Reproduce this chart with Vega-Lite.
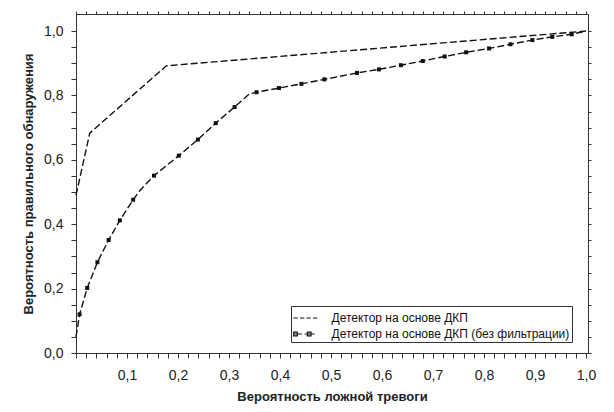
{
  "$schema": "https://vega.github.io/schema/vega-lite/v6.json",
  "width": 512,
  "height": 339,
  "autosize": {"type": "none"},
  "padding": {"left": 76, "top": 14, "right": 26, "bottom": 59},
  "background": "white",
  "config": {"font": "Liberation Sans", "view": {"stroke": null}},
  "data": {
    "values": [
      {"fpr": 0.0, "tpr": 0.49, "series": "Детектор на основе ДКП", "marker": false},
      {"fpr": 0.027, "tpr": 0.683, "series": "Детектор на основе ДКП", "marker": false},
      {"fpr": 0.177, "tpr": 0.892, "series": "Детектор на основе ДКП", "marker": false},
      {"fpr": 1.0, "tpr": 1.0, "series": "Детектор на основе ДКП", "marker": false},
      {"fpr": 0.0, "tpr": 0.05, "series": "Детектор на основе ДКП (без фильтрации)", "marker": false},
      {"fpr": 0.007, "tpr": 0.12, "series": "Детектор на основе ДКП (без фильтрации)", "marker": true},
      {"fpr": 0.022, "tpr": 0.202, "series": "Детектор на основе ДКП (без фильтрации)", "marker": true},
      {"fpr": 0.042, "tpr": 0.282, "series": "Детектор на основе ДКП (без фильтрации)", "marker": true},
      {"fpr": 0.064, "tpr": 0.351, "series": "Детектор на основе ДКП (без фильтрации)", "marker": true},
      {"fpr": 0.086, "tpr": 0.412, "series": "Детектор на основе ДКП (без фильтрации)", "marker": true},
      {"fpr": 0.112, "tpr": 0.476, "series": "Детектор на основе ДКП (без фильтрации)", "marker": true},
      {"fpr": 0.125, "tpr": 0.504, "series": "Детектор на основе ДКП (без фильтрации)", "marker": false},
      {"fpr": 0.153, "tpr": 0.551, "series": "Детектор на основе ДКП (без фильтрации)", "marker": true},
      {"fpr": 0.2016, "tpr": 0.613, "series": "Детектор на основе ДКП (без фильтрации)", "marker": true},
      {"fpr": 0.239, "tpr": 0.663, "series": "Детектор на основе ДКП (без фильтрации)", "marker": true},
      {"fpr": 0.274, "tpr": 0.714, "series": "Детектор на основе ДКП (без фильтрации)", "marker": true},
      {"fpr": 0.311, "tpr": 0.764, "series": "Детектор на основе ДКП (без фильтрации)", "marker": true},
      {"fpr": 0.34, "tpr": 0.805, "series": "Детектор на основе ДКП (без фильтрации)", "marker": false},
      {"fpr": 0.354, "tpr": 0.81, "series": "Детектор на основе ДКП (без фильтрации)", "marker": true},
      {"fpr": 0.398, "tpr": 0.823, "series": "Детектор на основе ДКП (без фильтрации)", "marker": true},
      {"fpr": 0.442, "tpr": 0.836, "series": "Детектор на основе ДКП (без фильтрации)", "marker": true},
      {"fpr": 0.487, "tpr": 0.85, "series": "Детектор на основе ДКП (без фильтрации)", "marker": true},
      {"fpr": 0.551, "tpr": 0.87, "series": "Детектор на основе ДКП (без фильтрации)", "marker": true},
      {"fpr": 0.594, "tpr": 0.881, "series": "Детектор на основе ДКП (без фильтрации)", "marker": true},
      {"fpr": 0.637, "tpr": 0.894, "series": "Детектор на основе ДКП (без фильтрации)", "marker": true},
      {"fpr": 0.68, "tpr": 0.907, "series": "Детектор на основе ДКП (без фильтрации)", "marker": true},
      {"fpr": 0.723, "tpr": 0.921, "series": "Детектор на основе ДКП (без фильтрации)", "marker": true},
      {"fpr": 0.765, "tpr": 0.934, "series": "Детектор на основе ДКП (без фильтрации)", "marker": true},
      {"fpr": 0.81, "tpr": 0.946, "series": "Детектор на основе ДКП (без фильтрации)", "marker": true},
      {"fpr": 0.852, "tpr": 0.959, "series": "Детектор на основе ДКП (без фильтрации)", "marker": true},
      {"fpr": 0.895, "tpr": 0.972, "series": "Детектор на основе ДКП (без фильтрации)", "marker": true},
      {"fpr": 0.934, "tpr": 0.982, "series": "Детектор на основе ДКП (без фильтрации)", "marker": true},
      {"fpr": 0.972, "tpr": 0.99, "series": "Детектор на основе ДКП (без фильтрации)", "marker": true},
      {"fpr": 1.0, "tpr": 1.0, "series": "Детектор на основе ДКП (без фильтрации)", "marker": false}
    ]
  },
  "layer": [
    {
      "mark": {"type": "line", "color": "#111", "strokeWidth": 1.4, "strokeDash": [7, 3]},
      "encoding": {
        "x": {
          "field": "fpr", "type": "quantitative",
          "scale": {"domain": [0, 1.004], "nice": false, "zero": false},
          "axis": {
            "orient": "bottom",
            "values": [0,0.02,0.04,0.06,0.08,0.1,0.12,0.14,0.16,0.18,0.2,0.22,0.24,0.26,0.28,0.3,0.32,0.34,0.36,0.38,0.4,0.42,0.44,0.46,0.48,0.5,0.52,0.54,0.56,0.58,0.6,0.62,0.64,0.66,0.68,0.7,0.72,0.74,0.76,0.78,0.8,0.82,0.84,0.86,0.88,0.9,0.92,0.94,0.96,0.98,1.0],
            "labelExpr": "datum.value > 0.001 && abs(datum.value*10 - round(datum.value*10)) < 0.001 ? replace(format(datum.value, '.1f'), '.', ',') : ''",
            "labelOverlap": false, "labelBound": false, "labelFlush": false,
            "labelFont": "Liberation Sans", "labelFontSize": 14, "labelColor": "#222",
            "tickSize": 5, "labelPadding": 10, "tickColor": "#333", "tickWidth": 1, "domainColor": "#333", "domainWidth": 1,
            "grid": false,
            "title": "Вероятность ложной тревоги",
            "titleFont": "Liberation Sans", "titleFontSize": 13, "titleFontWeight": "bold", "titleColor": "#222", "titlePadding": 8,
            "encode": {"ticks": {"update": {
              "y": {"signal": "abs(datum.value*10 - round(datum.value*10)) < 0.001 ? -6 : -3"},
              "y2": {"signal": "abs(datum.value*10 - round(datum.value*10)) < 0.001 ? 7 : 4"}
            }}}
          }
        },
        "y": {
          "field": "tpr", "type": "quantitative",
          "scale": {"domain": [0, 1.053], "nice": false, "zero": false},
          "axis": {
            "orient": "left",
            "values": [0,0.05,0.1,0.15,0.2,0.25,0.3,0.35,0.4,0.45,0.5,0.55,0.6,0.65,0.7,0.75,0.8,0.85,0.9,0.95,1.0],
            "labelExpr": "abs(datum.value*5 - round(datum.value*5)) < 0.001 ? replace(format(datum.value, '.1f'), '.', ',') : ''",
            "labelOverlap": false, "labelBound": false, "labelFlush": false,
            "labelFont": "Liberation Sans", "labelFontSize": 14, "labelColor": "#222",
            "tickSize": 5, "labelPadding": 8, "tickColor": "#333", "tickWidth": 1, "domainColor": "#333", "domainWidth": 1,
            "grid": false,
            "title": "Вероятность правильного обнаружения",
            "titleFont": "Liberation Sans", "titleFontSize": 13, "titleFontWeight": "bold", "titleColor": "#222", "titlePadding": 8,
            "encode": {"ticks": {"update": {
              "x": {"signal": "abs(datum.value*5 - round(datum.value*5)) < 0.001 ? -5 : -3"},
              "x2": {"signal": "abs(datum.value*5 - round(datum.value*5)) < 0.001 ? 4 : 3"}
            }}}
          }
        },
        "detail": {"field": "series", "type": "nominal"},
        "order": {"field": "fpr", "type": "quantitative"}
      }
    },
    {
      "transform": [{"filter": "datum.marker"}],
      "mark": {"type": "point", "shape": "square", "filled": true, "size": 16, "color": "#111", "opacity": 1},
      "encoding": {
        "x": {
          "field": "fpr", "type": "quantitative",
          "axis": {
            "orient": "top",
            "values": [0,0.02,0.04,0.06,0.08,0.1,0.12,0.14,0.16,0.18,0.2,0.22,0.24,0.26,0.28,0.3,0.32,0.34,0.36,0.38,0.4,0.42,0.44,0.46,0.48,0.5,0.52,0.54,0.56,0.58,0.6,0.62,0.64,0.66,0.68,0.7,0.72,0.74,0.76,0.78,0.8,0.82,0.84,0.86,0.88,0.9,0.92,0.94,0.96,0.98,1.0],
            "labels": false, "title": null, "grid": false,
            "tickColor": "#333", "tickWidth": 1, "domainColor": "#333", "domainWidth": 1, "tickSize": 3,
            "encode": {"ticks": {"update": {
              "y": {"signal": "abs(datum.value*10 - round(datum.value*10)) < 0.001 ? -2 : 0"},
              "y2": {"signal": "abs(datum.value*10 - round(datum.value*10)) < 0.001 ? 5 : 3"}
            }}}
          }
        },
        "y": {
          "field": "tpr", "type": "quantitative",
          "axis": {
            "orient": "right",
            "values": [0,0.05,0.1,0.15,0.2,0.25,0.3,0.35,0.4,0.45,0.5,0.55,0.6,0.65,0.7,0.75,0.8,0.85,0.9,0.95,1.0],
            "labels": false, "title": null, "grid": false,
            "tickColor": "#333", "tickWidth": 1, "domainColor": "#333", "domainWidth": 1, "tickSize": 3,
            "encode": {"ticks": {"update": {
              "x": {"signal": "abs(datum.value*5 - round(datum.value*5)) < 0.001 ? -3 : 0"},
              "x2": {"signal": "3"}
            }}}
          }
        }
      }
    },
    {
      "mark": {"type": "point", "filled": false, "opacity": 0, "color": "#111"},
      "encoding": {
        "x": {"field": "fpr", "type": "quantitative", "axis": null},
        "y": {"field": "tpr", "type": "quantitative", "axis": null},
        "shape": {
          "field": "series", "type": "nominal",
          "scale": {
            "domain": ["Детектор на основе ДКП", "Детектор на основе ДКП (без фильтрации)"],
            "range": [
              "M-1.33,0H-0.85M-0.61,0H-0.13M0.11,0H0.59M0.83,0H1.31",
              "M-1.33,0H-0.4M-0.1,0H1M-1.31,-0.2H-0.91V0.2H-1.31ZM0.21,-0.2H0.61V0.2H0.21Z"
            ]
          },
          "legend": {
            "title": null,
            "orient": "none",
            "legendX": 215,
            "legendY": 292,
            "strokeColor": "#333",
            "fillColor": "white",
            "padding": 2,
            "symbolSize": 324,
            "symbolOffset": 2.5,
            "labelOffset": 16,
            "labelFont": "Liberation Sans",
            "labelFontSize": 12,
            "labelColor": "#111",
            "rowPadding": 0,
            "symbolOpacity": 1,
            "symbolStrokeColor": "#111",
            "symbolFillColor": "#111",
            "symbolStrokeWidth": 1.2,
            "labelLimit": 400,
            "labelExpr": "datum.label + '\u00a0\u00a0\u00a0\u00a0\u00a0\u00a0\u00a0\u00a0\u00a0\u00a0'",
            "encode": {"symbols": {"update": {
              "opacity": {"value": 1},
              "fill": {"value": "#111"},
              "stroke": {"value": "#111"},
              "strokeWidth": {"value": 1.2}
            }}}
          }
        }
      }
    }
  ],
  "resolve": {"axis": {"x": "independent", "y": "independent"}}
}
